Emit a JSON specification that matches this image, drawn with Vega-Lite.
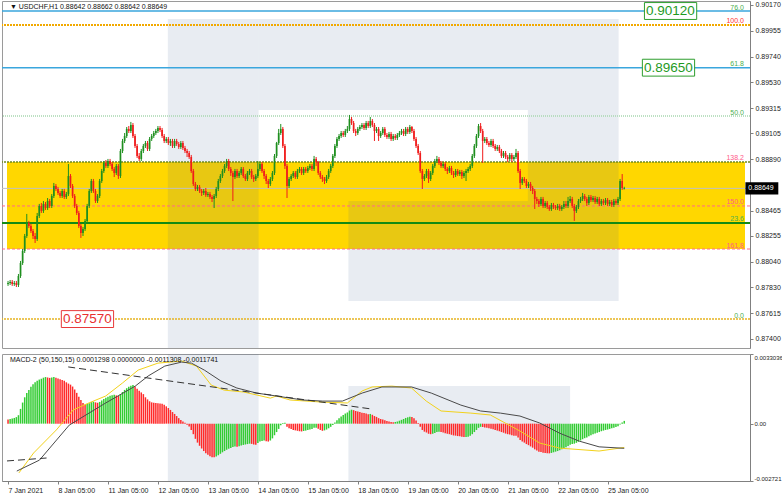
{
"$schema":"https://vega.github.io/schema/vega-lite/v6.json",
"padding":0,"spacing":4,"background":"white",
"config":{"view":{"stroke":"#9a9a9a","strokeWidth":1},"font":"Liberation Sans","axis":{"labelFont":"Liberation Sans","labelFontSize":7,"labelColor":"#222","domainColor":"#808080","tickColor":"#808080","grid":false,"labelOverlap":false,"labelBound":false}},
"datasets":{
"candles":[
{"i":0,"o":0.87856,"h":0.87881,"l":0.87840,"c":0.87864,"m":0.00020},
{"i":1,"o":0.87864,"h":0.87889,"l":0.87848,"c":0.87873,"m":0.00022},
{"i":2,"o":0.87873,"h":0.87889,"l":0.87840,"c":0.87856,"m":0.00024},
{"i":3,"o":0.87856,"h":0.87881,"l":0.87840,"c":0.87864,"m":0.00027},
{"i":4,"o":0.87864,"h":0.87881,"l":0.87831,"c":0.87848,"m":0.00031},
{"i":5,"o":0.87848,"h":0.87939,"l":0.87831,"c":0.87922,"m":0.00040},
{"i":6,"o":0.87922,"h":0.88047,"l":0.87906,"c":0.88030,"m":0.00070},
{"i":7,"o":0.88030,"h":0.88146,"l":0.88014,"c":0.88130,"m":0.00100},
{"i":8,"o":0.88130,"h":0.88271,"l":0.88113,"c":0.88254,"m":0.00125},
{"i":9,"o":0.88254,"h":0.88437,"l":0.88238,"c":0.88362,"m":0.00145},
{"i":10,"o":0.88362,"h":0.88379,"l":0.88320,"c":0.88337,"m":0.00160},
{"i":11,"o":0.88337,"h":0.88354,"l":0.88279,"c":0.88296,"m":0.00175},
{"i":12,"o":0.88296,"h":0.88312,"l":0.88229,"c":0.88254,"m":0.00187},
{"i":13,"o":0.88254,"h":0.88279,"l":0.88196,"c":0.88229,"m":0.00196},
{"i":14,"o":0.88229,"h":0.88445,"l":0.88213,"c":0.88420,"m":0.00203},
{"i":15,"o":0.88420,"h":0.88520,"l":0.88403,"c":0.88503,"m":0.00209},
{"i":16,"o":0.88503,"h":0.88528,"l":0.88445,"c":0.88462,"m":0.00213},
{"i":17,"o":0.88462,"h":0.88544,"l":0.88445,"c":0.88520,"m":0.00218},
{"i":18,"o":0.88520,"h":0.88536,"l":0.88470,"c":0.88486,"m":0.00221},
{"i":19,"o":0.88486,"h":0.88569,"l":0.88470,"c":0.88544,"m":0.00219},
{"i":20,"o":0.88544,"h":0.88561,"l":0.88486,"c":0.88503,"m":0.00217},
{"i":21,"o":0.88503,"h":0.88602,"l":0.88486,"c":0.88586,"m":0.00219},
{"i":22,"o":0.88586,"h":0.88694,"l":0.88569,"c":0.88669,"m":0.00221},
{"i":23,"o":0.88669,"h":0.88685,"l":0.88627,"c":0.88644,"m":0.00218},
{"i":24,"o":0.88644,"h":0.88661,"l":0.88594,"c":0.88611,"m":0.00214},
{"i":25,"o":0.88611,"h":0.88627,"l":0.88569,"c":0.88586,"m":0.00211},
{"i":26,"o":0.88586,"h":0.88644,"l":0.88569,"c":0.88627,"m":0.00207},
{"i":27,"o":0.88627,"h":0.88644,"l":0.88561,"c":0.88578,"m":0.00203},
{"i":28,"o":0.88578,"h":0.88619,"l":0.88561,"c":0.88602,"m":0.00196},
{"i":29,"o":0.88602,"h":0.88851,"l":0.88586,"c":0.88752,"m":0.00190},
{"i":30,"o":0.88752,"h":0.88768,"l":0.88652,"c":0.88669,"m":0.00185},
{"i":31,"o":0.88669,"h":0.88685,"l":0.88569,"c":0.88586,"m":0.00176},
{"i":32,"o":0.88586,"h":0.88602,"l":0.88486,"c":0.88503,"m":0.00162},
{"i":33,"o":0.88503,"h":0.88520,"l":0.88428,"c":0.88445,"m":0.00146},
{"i":34,"o":0.88445,"h":0.88462,"l":0.88320,"c":0.88337,"m":0.00128},
{"i":35,"o":0.88337,"h":0.88354,"l":0.88238,"c":0.88279,"m":0.00112},
{"i":36,"o":0.88279,"h":0.88329,"l":0.88254,"c":0.88312,"m":0.00098},
{"i":37,"o":0.88312,"h":0.88395,"l":0.88296,"c":0.88379,"m":0.00090},
{"i":38,"o":0.88379,"h":0.88520,"l":0.88362,"c":0.88503,"m":0.00093},
{"i":39,"o":0.88503,"h":0.88644,"l":0.88486,"c":0.88627,"m":0.00097},
{"i":40,"o":0.88627,"h":0.88727,"l":0.88611,"c":0.88710,"m":0.00102},
{"i":41,"o":0.88710,"h":0.88727,"l":0.88611,"c":0.88627,"m":0.00104},
{"i":42,"o":0.88627,"h":0.88644,"l":0.88528,"c":0.88544,"m":0.00101},
{"i":43,"o":0.88544,"h":0.88602,"l":0.88528,"c":0.88586,"m":0.00099},
{"i":44,"o":0.88586,"h":0.88727,"l":0.88569,"c":0.88710,"m":0.00103},
{"i":45,"o":0.88710,"h":0.88810,"l":0.88694,"c":0.88793,"m":0.00110},
{"i":46,"o":0.88793,"h":0.88876,"l":0.88777,"c":0.88860,"m":0.00117},
{"i":47,"o":0.88860,"h":0.88884,"l":0.88818,"c":0.88835,"m":0.00123},
{"i":48,"o":0.88835,"h":0.88893,"l":0.88818,"c":0.88876,"m":0.00128},
{"i":49,"o":0.88876,"h":0.88893,"l":0.88835,"c":0.88851,"m":0.00132},
{"i":50,"o":0.88851,"h":0.88868,"l":0.88793,"c":0.88810,"m":0.00135},
{"i":51,"o":0.88810,"h":0.88826,"l":0.88743,"c":0.88777,"m":0.00137},
{"i":52,"o":0.88777,"h":0.88851,"l":0.88760,"c":0.88835,"m":0.00134},
{"i":53,"o":0.88835,"h":0.88851,"l":0.88727,"c":0.88752,"m":0.00131},
{"i":54,"o":0.88752,"h":0.88976,"l":0.88735,"c":0.88959,"m":0.00140},
{"i":55,"o":0.88959,"h":0.89059,"l":0.88942,"c":0.89042,"m":0.00150},
{"i":56,"o":0.89042,"h":0.89108,"l":0.89025,"c":0.89083,"m":0.00160},
{"i":57,"o":0.89083,"h":0.89158,"l":0.89067,"c":0.89142,"m":0.00168},
{"i":58,"o":0.89142,"h":0.89166,"l":0.89108,"c":0.89125,"m":0.00175},
{"i":59,"o":0.89125,"h":0.89200,"l":0.89108,"c":0.89175,"m":0.00180},
{"i":60,"o":0.89175,"h":0.89191,"l":0.89067,"c":0.89083,"m":0.00183},
{"i":61,"o":0.89083,"h":0.89100,"l":0.88984,"c":0.89001,"m":0.00176},
{"i":62,"o":0.89001,"h":0.89017,"l":0.88901,"c":0.88918,"m":0.00166},
{"i":63,"o":0.88918,"h":0.88942,"l":0.88876,"c":0.88893,"m":0.00156},
{"i":64,"o":0.88893,"h":0.88976,"l":0.88876,"c":0.88959,"m":0.00148},
{"i":65,"o":0.88959,"h":0.89017,"l":0.88942,"c":0.89001,"m":0.00140},
{"i":66,"o":0.89001,"h":0.89042,"l":0.88984,"c":0.89025,"m":0.00125},
{"i":67,"o":0.89025,"h":0.89042,"l":0.88959,"c":0.88976,"m":0.00115},
{"i":68,"o":0.88976,"h":0.89075,"l":0.88959,"c":0.89059,"m":0.00106},
{"i":69,"o":0.89059,"h":0.89100,"l":0.89042,"c":0.89083,"m":0.00101},
{"i":70,"o":0.89083,"h":0.89125,"l":0.89067,"c":0.89108,"m":0.00099},
{"i":71,"o":0.89108,"h":0.89142,"l":0.89092,"c":0.89125,"m":0.00098},
{"i":72,"o":0.89125,"h":0.89166,"l":0.89108,"c":0.89150,"m":0.00097},
{"i":73,"o":0.89150,"h":0.89166,"l":0.89117,"c":0.89133,"m":0.00096},
{"i":74,"o":0.89133,"h":0.89150,"l":0.89067,"c":0.89083,"m":0.00094},
{"i":75,"o":0.89083,"h":0.89100,"l":0.89025,"c":0.89042,"m":0.00090},
{"i":76,"o":0.89042,"h":0.89075,"l":0.89025,"c":0.89059,"m":0.00082},
{"i":77,"o":0.89059,"h":0.89075,"l":0.89009,"c":0.89025,"m":0.00074},
{"i":78,"o":0.89025,"h":0.89059,"l":0.89001,"c":0.89042,"m":0.00065},
{"i":79,"o":0.89042,"h":0.89059,"l":0.88984,"c":0.89001,"m":0.00055},
{"i":80,"o":0.89001,"h":0.89059,"l":0.88984,"c":0.89042,"m":0.00046},
{"i":81,"o":0.89042,"h":0.89059,"l":0.89001,"c":0.89017,"m":0.00036},
{"i":82,"o":0.89017,"h":0.89034,"l":0.88976,"c":0.88992,"m":0.00026},
{"i":83,"o":0.88992,"h":0.89042,"l":0.88976,"c":0.89025,"m":0.00017},
{"i":84,"o":0.89025,"h":0.89042,"l":0.88967,"c":0.88984,"m":0.00010},
{"i":85,"o":0.88984,"h":0.89001,"l":0.88942,"c":0.88959,"m":0.00004},
{"i":86,"o":0.88959,"h":0.88976,"l":0.88909,"c":0.88942,"m":-0.00005},
{"i":87,"o":0.88942,"h":0.88959,"l":0.88893,"c":0.88909,"m":-0.00014},
{"i":88,"o":0.88909,"h":0.88926,"l":0.88777,"c":0.88793,"m":-0.00030},
{"i":89,"o":0.88793,"h":0.88810,"l":0.88669,"c":0.88685,"m":-0.00050},
{"i":90,"o":0.88685,"h":0.88702,"l":0.88627,"c":0.88644,"m":-0.00072},
{"i":91,"o":0.88644,"h":0.88677,"l":0.88627,"c":0.88661,"m":-0.00090},
{"i":92,"o":0.88661,"h":0.88677,"l":0.88611,"c":0.88627,"m":-0.00105},
{"i":93,"o":0.88627,"h":0.88644,"l":0.88586,"c":0.88611,"m":-0.00118},
{"i":94,"o":0.88611,"h":0.88644,"l":0.88594,"c":0.88627,"m":-0.00130},
{"i":95,"o":0.88627,"h":0.88652,"l":0.88578,"c":0.88594,"m":-0.00140},
{"i":96,"o":0.88594,"h":0.88619,"l":0.88578,"c":0.88602,"m":-0.00148},
{"i":97,"o":0.88602,"h":0.88619,"l":0.88561,"c":0.88578,"m":-0.00155},
{"i":98,"o":0.88578,"h":0.88594,"l":0.88536,"c":0.88561,"m":-0.00159},
{"i":99,"o":0.88561,"h":0.88602,"l":0.88486,"c":0.88586,"m":-0.00160},
{"i":100,"o":0.88586,"h":0.88661,"l":0.88569,"c":0.88644,"m":-0.00156},
{"i":101,"o":0.88644,"h":0.88727,"l":0.88627,"c":0.88710,"m":-0.00150},
{"i":102,"o":0.88710,"h":0.88768,"l":0.88694,"c":0.88752,"m":-0.00143},
{"i":103,"o":0.88752,"h":0.88810,"l":0.88735,"c":0.88793,"m":-0.00136},
{"i":104,"o":0.88793,"h":0.88851,"l":0.88777,"c":0.88835,"m":-0.00130},
{"i":105,"o":0.88835,"h":0.88893,"l":0.88818,"c":0.88876,"m":-0.00124},
{"i":106,"o":0.88876,"h":0.88893,"l":0.88793,"c":0.88810,"m":-0.00119},
{"i":107,"o":0.88810,"h":0.88826,"l":0.88752,"c":0.88777,"m":-0.00115},
{"i":108,"o":0.88777,"h":0.88793,"l":0.88544,"c":0.88743,"m":-0.00111},
{"i":109,"o":0.88743,"h":0.88810,"l":0.88727,"c":0.88793,"m":-0.00109},
{"i":110,"o":0.88793,"h":0.88810,"l":0.88735,"c":0.88752,"m":-0.00110},
{"i":111,"o":0.88752,"h":0.88793,"l":0.88735,"c":0.88777,"m":-0.00107},
{"i":112,"o":0.88777,"h":0.88826,"l":0.88760,"c":0.88810,"m":-0.00104},
{"i":113,"o":0.88810,"h":0.88826,"l":0.88735,"c":0.88752,"m":-0.00101},
{"i":114,"o":0.88752,"h":0.88768,"l":0.88710,"c":0.88727,"m":-0.00099},
{"i":115,"o":0.88727,"h":0.88793,"l":0.88710,"c":0.88777,"m":-0.00097},
{"i":116,"o":0.88777,"h":0.88810,"l":0.88760,"c":0.88793,"m":-0.00095},
{"i":117,"o":0.88793,"h":0.88810,"l":0.88727,"c":0.88743,"m":-0.00096},
{"i":118,"o":0.88743,"h":0.88760,"l":0.88702,"c":0.88727,"m":-0.00099},
{"i":119,"o":0.88727,"h":0.88768,"l":0.88710,"c":0.88752,"m":-0.00100},
{"i":120,"o":0.88752,"h":0.88876,"l":0.88735,"c":0.88810,"m":-0.00092},
{"i":121,"o":0.88810,"h":0.88868,"l":0.88793,"c":0.88851,"m":-0.00085},
{"i":122,"o":0.88851,"h":0.88868,"l":0.88777,"c":0.88793,"m":-0.00082},
{"i":123,"o":0.88793,"h":0.88810,"l":0.88727,"c":0.88752,"m":-0.00080},
{"i":124,"o":0.88752,"h":0.88768,"l":0.88685,"c":0.88710,"m":-0.00083},
{"i":125,"o":0.88710,"h":0.88727,"l":0.88652,"c":0.88685,"m":-0.00085},
{"i":126,"o":0.88685,"h":0.88743,"l":0.88669,"c":0.88727,"m":-0.00080},
{"i":127,"o":0.88727,"h":0.88793,"l":0.88710,"c":0.88777,"m":-0.00070},
{"i":128,"o":0.88777,"h":0.88934,"l":0.88760,"c":0.88918,"m":-0.00055},
{"i":129,"o":0.88918,"h":0.89034,"l":0.88901,"c":0.89025,"m":-0.00040},
{"i":130,"o":0.89025,"h":0.89142,"l":0.89009,"c":0.89108,"m":-0.00025},
{"i":131,"o":0.89108,"h":0.89183,"l":0.89092,"c":0.89142,"m":-0.00008},
{"i":132,"o":0.89142,"h":0.89158,"l":0.88984,"c":0.89001,"m":0.00003},
{"i":133,"o":0.89001,"h":0.89017,"l":0.88810,"c":0.88835,"m":0.00004},
{"i":134,"o":0.88835,"h":0.88851,"l":0.88569,"c":0.88669,"m":-0.00015},
{"i":135,"o":0.88669,"h":0.88743,"l":0.88652,"c":0.88727,"m":-0.00022},
{"i":136,"o":0.88727,"h":0.88768,"l":0.88710,"c":0.88752,"m":-0.00026},
{"i":137,"o":0.88752,"h":0.88793,"l":0.88735,"c":0.88777,"m":-0.00030},
{"i":138,"o":0.88777,"h":0.88793,"l":0.88727,"c":0.88743,"m":-0.00032},
{"i":139,"o":0.88743,"h":0.88810,"l":0.88727,"c":0.88793,"m":-0.00034},
{"i":140,"o":0.88793,"h":0.88826,"l":0.88777,"c":0.88810,"m":-0.00036},
{"i":141,"o":0.88810,"h":0.88826,"l":0.88760,"c":0.88777,"m":-0.00037},
{"i":142,"o":0.88777,"h":0.88826,"l":0.88760,"c":0.88810,"m":-0.00035},
{"i":143,"o":0.88810,"h":0.88826,"l":0.88777,"c":0.88793,"m":-0.00033},
{"i":144,"o":0.88793,"h":0.88835,"l":0.88777,"c":0.88818,"m":-0.00030},
{"i":145,"o":0.88818,"h":0.88851,"l":0.88802,"c":0.88835,"m":-0.00028},
{"i":146,"o":0.88835,"h":0.88851,"l":0.88793,"c":0.88810,"m":-0.00025},
{"i":147,"o":0.88810,"h":0.88918,"l":0.88793,"c":0.88893,"m":-0.00020},
{"i":148,"o":0.88893,"h":0.88909,"l":0.88835,"c":0.88868,"m":-0.00019},
{"i":149,"o":0.88868,"h":0.88876,"l":0.88760,"c":0.88777,"m":-0.00024},
{"i":150,"o":0.88777,"h":0.88793,"l":0.88727,"c":0.88743,"m":-0.00030},
{"i":151,"o":0.88743,"h":0.88760,"l":0.88702,"c":0.88727,"m":-0.00034},
{"i":152,"o":0.88727,"h":0.88743,"l":0.88685,"c":0.88710,"m":-0.00032},
{"i":153,"o":0.88710,"h":0.88760,"l":0.88694,"c":0.88743,"m":-0.00028},
{"i":154,"o":0.88743,"h":0.88810,"l":0.88727,"c":0.88793,"m":-0.00022},
{"i":155,"o":0.88793,"h":0.88851,"l":0.88777,"c":0.88835,"m":-0.00015},
{"i":156,"o":0.88835,"h":0.88934,"l":0.88818,"c":0.88918,"m":-0.00006},
{"i":157,"o":0.88918,"h":0.89017,"l":0.88901,"c":0.89001,"m":0.00005},
{"i":158,"o":0.89001,"h":0.89075,"l":0.88984,"c":0.89059,"m":0.00016},
{"i":159,"o":0.89059,"h":0.89100,"l":0.89042,"c":0.89083,"m":0.00026},
{"i":160,"o":0.89083,"h":0.89125,"l":0.89067,"c":0.89108,"m":0.00034},
{"i":161,"o":0.89108,"h":0.89125,"l":0.89075,"c":0.89092,"m":0.00041},
{"i":162,"o":0.89092,"h":0.89142,"l":0.89075,"c":0.89125,"m":0.00048},
{"i":163,"o":0.89125,"h":0.89166,"l":0.89108,"c":0.89142,"m":0.00053},
{"i":164,"o":0.89142,"h":0.89258,"l":0.89125,"c":0.89224,"m":0.00062},
{"i":165,"o":0.89224,"h":0.89241,"l":0.89175,"c":0.89191,"m":0.00066},
{"i":166,"o":0.89191,"h":0.89208,"l":0.89108,"c":0.89125,"m":0.00064},
{"i":167,"o":0.89125,"h":0.89142,"l":0.89083,"c":0.89108,"m":0.00060},
{"i":168,"o":0.89108,"h":0.89158,"l":0.89092,"c":0.89142,"m":0.00058},
{"i":169,"o":0.89142,"h":0.89175,"l":0.89125,"c":0.89158,"m":0.00055},
{"i":170,"o":0.89158,"h":0.89191,"l":0.89142,"c":0.89175,"m":0.00052},
{"i":171,"o":0.89175,"h":0.89191,"l":0.89133,"c":0.89150,"m":0.00050},
{"i":172,"o":0.89150,"h":0.89208,"l":0.89133,"c":0.89191,"m":0.00048},
{"i":173,"o":0.89191,"h":0.89208,"l":0.89150,"c":0.89166,"m":0.00045},
{"i":174,"o":0.89166,"h":0.89241,"l":0.89150,"c":0.89208,"m":0.00046},
{"i":175,"o":0.89208,"h":0.89224,"l":0.89158,"c":0.89175,"m":0.00042},
{"i":176,"o":0.89175,"h":0.89191,"l":0.89042,"c":0.89125,"m":0.00036},
{"i":177,"o":0.89125,"h":0.89158,"l":0.89108,"c":0.89142,"m":0.00032},
{"i":178,"o":0.89142,"h":0.89158,"l":0.89042,"c":0.89083,"m":0.00026},
{"i":179,"o":0.89083,"h":0.89125,"l":0.89067,"c":0.89108,"m":0.00022},
{"i":180,"o":0.89108,"h":0.89158,"l":0.89092,"c":0.89142,"m":0.00020},
{"i":181,"o":0.89142,"h":0.89158,"l":0.89075,"c":0.89092,"m":0.00016},
{"i":182,"o":0.89092,"h":0.89108,"l":0.89059,"c":0.89075,"m":0.00012},
{"i":183,"o":0.89075,"h":0.89117,"l":0.89059,"c":0.89100,"m":0.00010},
{"i":184,"o":0.89100,"h":0.89117,"l":0.89042,"c":0.89059,"m":0.00008},
{"i":185,"o":0.89059,"h":0.89100,"l":0.89042,"c":0.89083,"m":0.00007},
{"i":186,"o":0.89083,"h":0.89100,"l":0.89050,"c":0.89067,"m":0.00008},
{"i":187,"o":0.89067,"h":0.89108,"l":0.89050,"c":0.89092,"m":0.00010},
{"i":188,"o":0.89092,"h":0.89125,"l":0.89075,"c":0.89108,"m":0.00014},
{"i":189,"o":0.89108,"h":0.89142,"l":0.89092,"c":0.89125,"m":0.00018},
{"i":190,"o":0.89125,"h":0.89142,"l":0.89083,"c":0.89100,"m":0.00022},
{"i":191,"o":0.89100,"h":0.89158,"l":0.89083,"c":0.89142,"m":0.00027},
{"i":192,"o":0.89142,"h":0.89158,"l":0.89100,"c":0.89117,"m":0.00030},
{"i":193,"o":0.89117,"h":0.89175,"l":0.89100,"c":0.89158,"m":0.00033},
{"i":194,"o":0.89158,"h":0.89166,"l":0.89108,"c":0.89125,"m":0.00032},
{"i":195,"o":0.89125,"h":0.89142,"l":0.89042,"c":0.89059,"m":0.00025},
{"i":196,"o":0.89059,"h":0.89075,"l":0.88984,"c":0.89001,"m":0.00015},
{"i":197,"o":0.89001,"h":0.89017,"l":0.88926,"c":0.88942,"m":0.00003},
{"i":198,"o":0.88942,"h":0.88959,"l":0.88777,"c":0.88793,"m":-0.00015},
{"i":199,"o":0.88793,"h":0.88810,"l":0.88644,"c":0.88727,"m":-0.00030},
{"i":200,"o":0.88727,"h":0.88768,"l":0.88710,"c":0.88752,"m":-0.00038},
{"i":201,"o":0.88752,"h":0.88810,"l":0.88735,"c":0.88793,"m":-0.00042},
{"i":202,"o":0.88793,"h":0.88810,"l":0.88694,"c":0.88727,"m":-0.00048},
{"i":203,"o":0.88727,"h":0.88793,"l":0.88710,"c":0.88777,"m":-0.00050},
{"i":204,"o":0.88777,"h":0.88851,"l":0.88760,"c":0.88835,"m":-0.00048},
{"i":205,"o":0.88835,"h":0.88893,"l":0.88818,"c":0.88876,"m":-0.00044},
{"i":206,"o":0.88876,"h":0.88918,"l":0.88860,"c":0.88893,"m":-0.00040},
{"i":207,"o":0.88893,"h":0.88909,"l":0.88843,"c":0.88860,"m":-0.00039},
{"i":208,"o":0.88860,"h":0.88876,"l":0.88818,"c":0.88835,"m":-0.00040},
{"i":209,"o":0.88835,"h":0.88868,"l":0.88818,"c":0.88851,"m":-0.00042},
{"i":210,"o":0.88851,"h":0.88868,"l":0.88793,"c":0.88810,"m":-0.00045},
{"i":211,"o":0.88810,"h":0.88826,"l":0.88768,"c":0.88793,"m":-0.00048},
{"i":212,"o":0.88793,"h":0.88835,"l":0.88777,"c":0.88818,"m":-0.00050},
{"i":213,"o":0.88818,"h":0.88835,"l":0.88760,"c":0.88777,"m":-0.00053},
{"i":214,"o":0.88777,"h":0.88793,"l":0.88735,"c":0.88760,"m":-0.00056},
{"i":215,"o":0.88760,"h":0.88810,"l":0.88743,"c":0.88793,"m":-0.00057},
{"i":216,"o":0.88793,"h":0.88810,"l":0.88752,"c":0.88768,"m":-0.00059},
{"i":217,"o":0.88768,"h":0.88802,"l":0.88752,"c":0.88785,"m":-0.00060},
{"i":218,"o":0.88785,"h":0.88802,"l":0.88727,"c":0.88752,"m":-0.00062},
{"i":219,"o":0.88752,"h":0.88793,"l":0.88735,"c":0.88777,"m":-0.00063},
{"i":220,"o":0.88777,"h":0.88810,"l":0.88710,"c":0.88793,"m":-0.00063},
{"i":221,"o":0.88793,"h":0.88826,"l":0.88777,"c":0.88810,"m":-0.00062},
{"i":222,"o":0.88810,"h":0.88851,"l":0.88793,"c":0.88835,"m":-0.00058},
{"i":223,"o":0.88835,"h":0.88934,"l":0.88818,"c":0.88918,"m":-0.00050},
{"i":224,"o":0.88918,"h":0.89017,"l":0.88901,"c":0.89001,"m":-0.00040},
{"i":225,"o":0.89001,"h":0.89100,"l":0.88984,"c":0.89083,"m":-0.00030},
{"i":226,"o":0.89083,"h":0.89183,"l":0.89067,"c":0.89166,"m":-0.00020},
{"i":227,"o":0.89166,"h":0.89191,"l":0.89108,"c":0.89125,"m":-0.00015},
{"i":228,"o":0.89125,"h":0.89142,"l":0.88860,"c":0.89042,"m":-0.00016},
{"i":229,"o":0.89042,"h":0.89075,"l":0.89025,"c":0.89059,"m":-0.00018},
{"i":230,"o":0.89059,"h":0.89075,"l":0.89009,"c":0.89025,"m":-0.00020},
{"i":231,"o":0.89025,"h":0.89042,"l":0.88992,"c":0.89009,"m":-0.00022},
{"i":232,"o":0.89009,"h":0.89059,"l":0.88992,"c":0.89042,"m":-0.00024},
{"i":233,"o":0.89042,"h":0.89059,"l":0.88984,"c":0.89001,"m":-0.00027},
{"i":234,"o":0.89001,"h":0.89017,"l":0.88959,"c":0.88976,"m":-0.00030},
{"i":235,"o":0.88976,"h":0.89009,"l":0.88959,"c":0.88992,"m":-0.00033},
{"i":236,"o":0.88992,"h":0.89009,"l":0.88942,"c":0.88959,"m":-0.00036},
{"i":237,"o":0.88959,"h":0.88976,"l":0.88901,"c":0.88918,"m":-0.00040},
{"i":238,"o":0.88918,"h":0.88959,"l":0.88901,"c":0.88942,"m":-0.00043},
{"i":239,"o":0.88942,"h":0.88959,"l":0.88893,"c":0.88909,"m":-0.00047},
{"i":240,"o":0.88909,"h":0.88926,"l":0.88868,"c":0.88893,"m":-0.00050},
{"i":241,"o":0.88893,"h":0.88942,"l":0.88876,"c":0.88926,"m":-0.00052},
{"i":242,"o":0.88926,"h":0.88942,"l":0.88868,"c":0.88893,"m":-0.00055},
{"i":243,"o":0.88893,"h":0.88926,"l":0.88876,"c":0.88909,"m":-0.00057},
{"i":244,"o":0.88909,"h":0.88976,"l":0.88893,"c":0.88942,"m":-0.00058},
{"i":245,"o":0.88942,"h":0.88959,"l":0.88777,"c":0.88793,"m":-0.00066},
{"i":246,"o":0.88793,"h":0.88810,"l":0.88644,"c":0.88694,"m":-0.00078},
{"i":247,"o":0.88694,"h":0.88743,"l":0.88677,"c":0.88727,"m":-0.00085},
{"i":248,"o":0.88727,"h":0.88743,"l":0.88694,"c":0.88710,"m":-0.00090},
{"i":249,"o":0.88710,"h":0.88727,"l":0.88652,"c":0.88669,"m":-0.00097},
{"i":250,"o":0.88669,"h":0.88702,"l":0.88652,"c":0.88685,"m":-0.00102},
{"i":251,"o":0.88685,"h":0.88702,"l":0.88627,"c":0.88652,"m":-0.00108},
{"i":252,"o":0.88652,"h":0.88669,"l":0.88602,"c":0.88627,"m":-0.00114},
{"i":253,"o":0.88627,"h":0.88644,"l":0.88478,"c":0.88561,"m":-0.00122},
{"i":254,"o":0.88561,"h":0.88578,"l":0.88520,"c":0.88544,"m":-0.00128},
{"i":255,"o":0.88544,"h":0.88561,"l":0.88495,"c":0.88520,"m":-0.00133},
{"i":256,"o":0.88520,"h":0.88578,"l":0.88503,"c":0.88561,"m":-0.00135},
{"i":257,"o":0.88561,"h":0.88578,"l":0.88486,"c":0.88503,"m":-0.00138},
{"i":258,"o":0.88503,"h":0.88544,"l":0.88486,"c":0.88528,"m":-0.00139},
{"i":259,"o":0.88528,"h":0.88544,"l":0.88478,"c":0.88495,"m":-0.00140},
{"i":260,"o":0.88495,"h":0.88511,"l":0.88462,"c":0.88478,"m":-0.00141},
{"i":261,"o":0.88478,"h":0.88528,"l":0.88462,"c":0.88511,"m":-0.00139},
{"i":262,"o":0.88511,"h":0.88528,"l":0.88478,"c":0.88495,"m":-0.00136},
{"i":263,"o":0.88495,"h":0.88511,"l":0.88470,"c":0.88486,"m":-0.00133},
{"i":264,"o":0.88486,"h":0.88520,"l":0.88470,"c":0.88503,"m":-0.00130},
{"i":265,"o":0.88503,"h":0.88520,"l":0.88462,"c":0.88478,"m":-0.00126},
{"i":266,"o":0.88478,"h":0.88511,"l":0.88462,"c":0.88495,"m":-0.00122},
{"i":267,"o":0.88495,"h":0.88544,"l":0.88478,"c":0.88520,"m":-0.00117},
{"i":268,"o":0.88520,"h":0.88544,"l":0.88486,"c":0.88503,"m":-0.00112},
{"i":269,"o":0.88503,"h":0.88578,"l":0.88486,"c":0.88544,"m":-0.00106},
{"i":270,"o":0.88544,"h":0.88586,"l":0.88528,"c":0.88561,"m":-0.00100},
{"i":271,"o":0.88561,"h":0.88578,"l":0.88486,"c":0.88503,"m":-0.00097},
{"i":272,"o":0.88503,"h":0.88520,"l":0.88379,"c":0.88462,"m":-0.00095},
{"i":273,"o":0.88462,"h":0.88511,"l":0.88445,"c":0.88495,"m":-0.00091},
{"i":274,"o":0.88495,"h":0.88561,"l":0.88478,"c":0.88544,"m":-0.00086},
{"i":275,"o":0.88544,"h":0.88578,"l":0.88528,"c":0.88561,"m":-0.00080},
{"i":276,"o":0.88561,"h":0.88611,"l":0.88544,"c":0.88586,"m":-0.00074},
{"i":277,"o":0.88586,"h":0.88602,"l":0.88544,"c":0.88561,"m":-0.00069},
{"i":278,"o":0.88561,"h":0.88578,"l":0.88503,"c":0.88528,"m":-0.00066},
{"i":279,"o":0.88528,"h":0.88594,"l":0.88511,"c":0.88578,"m":-0.00060},
{"i":280,"o":0.88578,"h":0.88594,"l":0.88536,"c":0.88553,"m":-0.00055},
{"i":281,"o":0.88553,"h":0.88586,"l":0.88536,"c":0.88569,"m":-0.00050},
{"i":282,"o":0.88569,"h":0.88586,"l":0.88520,"c":0.88536,"m":-0.00047},
{"i":283,"o":0.88536,"h":0.88578,"l":0.88520,"c":0.88561,"m":-0.00043},
{"i":284,"o":0.88561,"h":0.88578,"l":0.88503,"c":0.88520,"m":-0.00040},
{"i":285,"o":0.88520,"h":0.88561,"l":0.88503,"c":0.88544,"m":-0.00036},
{"i":286,"o":0.88544,"h":0.88561,"l":0.88511,"c":0.88528,"m":-0.00033},
{"i":287,"o":0.88528,"h":0.88569,"l":0.88511,"c":0.88553,"m":-0.00030},
{"i":288,"o":0.88553,"h":0.88569,"l":0.88503,"c":0.88520,"m":-0.00028},
{"i":289,"o":0.88520,"h":0.88553,"l":0.88503,"c":0.88536,"m":-0.00025},
{"i":290,"o":0.88536,"h":0.88553,"l":0.88495,"c":0.88511,"m":-0.00022},
{"i":291,"o":0.88511,"h":0.88561,"l":0.88495,"c":0.88544,"m":-0.00019},
{"i":292,"o":0.88544,"h":0.88561,"l":0.88511,"c":0.88528,"m":-0.00016},
{"i":293,"o":0.88528,"h":0.88578,"l":0.88511,"c":0.88561,"m":-0.00012},
{"i":294,"o":0.88561,"h":0.88727,"l":0.88544,"c":0.88710,"m":-0.00004},
{"i":295,"o":0.88710,"h":0.88768,"l":0.88636,"c":0.88652,"m":0.00006},
{"i":296,"o":0.88642,"h":0.88662,"l":0.88642,"c":0.88649,"m":0.00013}
],
"levels":[
{"lbl":"76.0","p":0.90120,"k":"blue","g":"a"},
{"lbl":"100.0","p":0.90004,"k":"orange","g":"c"},
{"lbl":"61.8","p":0.89650,"k":"blue","g":"a"},
{"lbl":"50.0","p":0.89249,"k":"lgreen","g":"a"},
{"lbl":"138.2","p":0.88868,"k":"olive","g":"b"},
{"lbl":"","p":0.88649,"k":"cur","g":"a"},
{"lbl":"150.0","p":0.88503,"k":"pink","g":"b"},
{"lbl":"23.6","p":0.88362,"k":"green","g":"a"},
{"lbl":"161.8","p":0.88146,"k":"pink","g":"b"},
{"lbl":"0.0","p":0.87565,"k":"gold","g":"a"}
],
"ml":[
{"s":"macd","i":4.2,"v":-0.00225},{"s":"macd","i":15.1,"v":-0.00173},{"s":"macd","i":29.4,"v":-0.00007},{"s":"macd","i":46.9,"v":0.00098},{"s":"macd","i":61.1,"v":0.00178},{"s":"macd","i":67.3,"v":0.00226},{"s":"macd","i":75.3,"v":0.00273},{"s":"macd","i":83.4,"v":0.00292},{"s":"macd","i":88.1,"v":0.00287},{"s":"macd","i":94.3,"v":0.00254},{"s":"macd","i":102.3,"v":0.00202},{"s":"macd","i":109.9,"v":0.00169},{"s":"macd","i":119.4,"v":0.00145},{"s":"macd","i":128.9,"v":0.00131},{"s":"macd","i":141.7,"v":0.00112},{"s":"macd","i":151.2,"v":0.00107},{"s":"macd","i":160.6,"v":0.00107},{"s":"macd","i":170.1,"v":0.00145},{"s":"macd","i":179.6,"v":0.00174},{"s":"macd","i":193.8,"v":0.00174},{"s":"macd","i":203.3,"v":0.00145},{"s":"macd","i":217.5,"v":0.00088},{"s":"macd","i":227,"v":0.00060},{"s":"macd","i":236.5,"v":0.00050},{"s":"macd","i":245.9,"v":0.00036},{"s":"macd","i":255.4,"v":0.00003},{"s":"macd","i":264.9,"v":-0.00045},{"s":"macd","i":274.4,"v":-0.00083},{"s":"macd","i":283.9,"v":-0.00110},{"s":"macd","i":296,"v":-0.00117},
{"s":"sig","i":5.2,"v":-0.00234},{"s":"sig","i":12.3,"v":-0.00139},{"s":"sig","i":23.2,"v":-0.00030},{"s":"sig","i":31.3,"v":0.00065},{"s":"sig","i":38.8,"v":0.00098},{"s":"sig","i":46.9,"v":0.00131},{"s":"sig","i":55,"v":0.00193},{"s":"sig","i":62.5,"v":0.00254},{"s":"sig","i":72,"v":0.00287},{"s":"sig","i":83.4,"v":0.00297},{"s":"sig","i":90.5,"v":0.00273},{"s":"sig","i":97.6,"v":0.00183},{"s":"sig","i":103.8,"v":0.00159},{"s":"sig","i":113.2,"v":0.00150},{"s":"sig","i":126,"v":0.00121},{"s":"sig","i":128.9,"v":0.00131},{"s":"sig","i":135.5,"v":0.00112},{"s":"sig","i":151.2,"v":0.00102},{"s":"sig","i":163,"v":0.00098},{"s":"sig","i":170.1,"v":0.00155},{"s":"sig","i":174.9,"v":0.00174},{"s":"sig","i":184.3,"v":0.00178},{"s":"sig","i":193.8,"v":0.00169},{"s":"sig","i":200.9,"v":0.00107},{"s":"sig","i":208,"v":0.00060},{"s":"sig","i":222.3,"v":0.00050},{"s":"sig","i":231.7,"v":0.00041},{"s":"sig","i":238.8,"v":0.00003},{"s":"sig","i":245.9,"v":-0.00035},{"s":"sig","i":255.4,"v":-0.00092},{"s":"sig","i":264.9,"v":-0.00116},{"s":"sig","i":283.9,"v":-0.00130},{"s":"sig","i":296,"v":-0.00113}
],
"trend":[
{"t":"t1","i":28.9,"v":0.00269},{"t":"t1","i":174.9,"v":0.00069},
{"t":"t2","i":-0.5,"v":-0.00177},{"t":"t2","i":18.5,"v":-0.00163}
]
},
"vconcat":[
{
"width":748,"height":347,
"layer":[
{"data":{"values":[{}]},"mark":{"type":"rect","color":"#ffd700"},
 "encoding":{"x":{"datum":-0.5,"type":"quantitative","scale":{"domain":[-0.5,354],"nice":false,"zero":false},"axis":null},"x2":{"datum":354},
 "y":{"datum":0.88868,"type":"quantitative","scale":{"domain":[0.87325,0.90203],"nice":false,"zero":false},"axis":{"orient":"right","values":[0.90170,0.89955,0.89740,0.89530,0.89315,0.89105,0.88890,0.88465,0.88255,0.88040,0.87830,0.87615,0.87400],"tickCount":30,"format":".5f","tickSize":3,"labelPadding":2,"labelFontSize":7,"labelOverlap":false,"labelBound":false,"title":null}},"y2":{"datum":0.88146}}},
{"data":{"values":[{}]},"mark":{"type":"rect","color":"#3f5f95","opacity":0.12},
 "encoding":{"x":{"datum":76.75,"type":"quantitative","scale":{"domain":[-0.5,354],"nice":false,"zero":false},"axis":null},"x2":{"datum":120.35},"y":{"datum":0.87325,"type":"quantitative","scale":{"domain":[0.87325,0.90203],"nice":false,"zero":false}},"y2":{"datum":0.90054}}},
{"data":{"values":[{}]},"mark":{"type":"rect","color":"#3f5f95","opacity":0.12},
 "encoding":{"x":{"datum":120.35,"type":"quantitative","scale":{"domain":[-0.5,354],"nice":false,"zero":false},"axis":null},"x2":{"datum":293.3},"y":{"datum":0.89299,"type":"quantitative","scale":{"domain":[0.87325,0.90203],"nice":false,"zero":false}},"y2":{"datum":0.90054}}},
{"data":{"values":[{}]},"mark":{"type":"rect","color":"#3f5f95","opacity":0.12},
 "encoding":{"x":{"datum":249.7,"type":"quantitative","scale":{"domain":[-0.5,354],"nice":false,"zero":false},"axis":null},"x2":{"datum":293.3},"y":{"datum":0.88544,"type":"quantitative","scale":{"domain":[0.87325,0.90203],"nice":false,"zero":false}},"y2":{"datum":0.89299}}},
{"data":{"values":[{}]},"mark":{"type":"rect","color":"#3f5f95","opacity":0.12},
 "encoding":{"x":{"datum":163.5,"type":"quantitative","scale":{"domain":[-0.5,354],"nice":false,"zero":false},"axis":null},"x2":{"datum":293.3},"y":{"datum":0.87715,"type":"quantitative","scale":{"domain":[0.87325,0.90203],"nice":false,"zero":false}},"y2":{"datum":0.88544}}},
{"data":{"name":"levels"},"transform":[{"filter":"datum.k=='blue'"}],"mark":{"type":"rule","color":"#3aa6dd","strokeWidth":1.5},"encoding":{"y":{"field":"p","type":"quantitative","scale":{"domain":[0.87325,0.90203],"nice":false,"zero":false}}}},
{"data":{"name":"levels"},"transform":[{"filter":"datum.k=='orange'"}],"mark":{"type":"rule","color":"#f2a900","strokeWidth":2,"strokeDash":[2,1]},"encoding":{"y":{"field":"p","type":"quantitative","scale":{"domain":[0.87325,0.90203],"nice":false,"zero":false}}}},
{"data":{"name":"levels"},"transform":[{"filter":"datum.k=='lgreen'"}],"mark":{"type":"rule","color":"#a8d8b0","strokeWidth":1.5,"strokeDash":[1,1]},"encoding":{"y":{"field":"p","type":"quantitative","scale":{"domain":[0.87325,0.90203],"nice":false,"zero":false}}}},
{"data":{"name":"levels"},"transform":[{"filter":"datum.k=='olive'"}],"mark":{"type":"rule","color":"#6f8a1f","strokeWidth":1.5,"strokeDash":[2,1]},"encoding":{"y":{"field":"p","type":"quantitative","scale":{"domain":[0.87325,0.90203],"nice":false,"zero":false}}}},
{"data":{"name":"levels"},"transform":[{"filter":"datum.k=='cur'"}],"mark":{"type":"rule","color":"#c0c0c0","strokeWidth":1},"encoding":{"y":{"field":"p","type":"quantitative","scale":{"domain":[0.87325,0.90203],"nice":false,"zero":false}}}},
{"data":{"name":"levels"},"transform":[{"filter":"datum.k=='pink'"}],"mark":{"type":"rule","color":"#ff6a8a","strokeWidth":1,"strokeDash":[3,2]},"encoding":{"y":{"field":"p","type":"quantitative","scale":{"domain":[0.87325,0.90203],"nice":false,"zero":false}}}},
{"data":{"name":"levels"},"transform":[{"filter":"datum.k=='green'"}],"mark":{"type":"rule","color":"#138a13","strokeWidth":2},"encoding":{"y":{"field":"p","type":"quantitative","scale":{"domain":[0.87325,0.90203],"nice":false,"zero":false}}}},
{"data":{"name":"levels"},"transform":[{"filter":"datum.k=='gold'"}],"mark":{"type":"rule","color":"#e6b422","strokeWidth":1.5,"strokeDash":[2,1]},"encoding":{"y":{"field":"p","type":"quantitative","scale":{"domain":[0.87325,0.90203],"nice":false,"zero":false}}}},
{"data":{"name":"candles"},"mark":{"type":"rule","strokeWidth":1},
 "encoding":{"x":{"field":"i","type":"quantitative","scale":{"domain":[-0.5,354],"nice":false,"zero":false},"axis":null},
 "y":{"field":"l","type":"quantitative","scale":{"domain":[0.87325,0.90203],"nice":false,"zero":false}},"y2":{"field":"h"},
 "color":{"condition":{"test":"datum.c >= datum.o","value":"#1f8f1f"},"value":"#f01c1c"}}},
{"data":{"name":"candles"},"mark":{"type":"bar","size":1.7},
 "encoding":{"x":{"field":"i","type":"quantitative","scale":{"domain":[-0.5,354],"nice":false,"zero":false},"axis":null},
 "y":{"field":"o","type":"quantitative","scale":{"domain":[0.87325,0.90203],"nice":false,"zero":false}},"y2":{"field":"c"},
 "color":{"condition":{"test":"datum.c >= datum.o","value":"#1f8f1f"},"value":"#f01c1c"}}},
{"data":{"name":"levels"},"transform":[{"filter":"datum.lbl!=''"}],"mark":{"type":"text","align":"right","baseline":"bottom","dy":-0.5,"fontSize":7,"font":"Liberation Sans"},
 "encoding":{"x":{"datum":353.5,"type":"quantitative","scale":{"domain":[-0.5,354],"nice":false,"zero":false},"axis":null},
 "y":{"field":"p","type":"quantitative","scale":{"domain":[0.87325,0.90203],"nice":false,"zero":false}},
 "text":{"field":"lbl"},
 "color":{"field":"g","type":"nominal","scale":{"domain":["a","b","c"],"range":["#4caf50","#ff5c8a","#ff3333"]},"legend":null}}},
{"data":{"values":[{}]},"mark":{"type":"rect","fill":"white","stroke":"#2e9e2e","strokeWidth":1},
 "encoding":{"x":{"datum":305.7,"type":"quantitative","scale":{"domain":[-0.5,354],"nice":false,"zero":false},"axis":null},"x2":{"datum":330.8},"y":{"datum":0.90050,"type":"quantitative","scale":{"domain":[0.87325,0.90203],"nice":false,"zero":false}},"y2":{"datum":0.90190}}},
{"data":{"values":[{}]},"mark":{"type":"text","align":"center","baseline":"middle","fontSize":13.5,"font":"Liberation Sans","color":"#1f9a1f"},
 "encoding":{"x":{"datum":318.2,"type":"quantitative","scale":{"domain":[-0.5,354],"nice":false,"zero":false},"axis":null},"y":{"datum":0.90120,"type":"quantitative","scale":{"domain":[0.87325,0.90203],"nice":false,"zero":false}},"text":{"value":"0.90120"}}},
{"data":{"values":[{}]},"mark":{"type":"rect","fill":"white","stroke":"#2e9e2e","strokeWidth":1},
 "encoding":{"x":{"datum":304.7,"type":"quantitative","scale":{"domain":[-0.5,354],"nice":false,"zero":false},"axis":null},"x2":{"datum":329.8},"y":{"datum":0.89580,"type":"quantitative","scale":{"domain":[0.87325,0.90203],"nice":false,"zero":false}},"y2":{"datum":0.89720}}},
{"data":{"values":[{}]},"mark":{"type":"text","align":"center","baseline":"middle","fontSize":13.5,"font":"Liberation Sans","color":"#1f9a1f"},
 "encoding":{"x":{"datum":317.2,"type":"quantitative","scale":{"domain":[-0.5,354],"nice":false,"zero":false},"axis":null},"y":{"datum":0.89650,"type":"quantitative","scale":{"domain":[0.87325,0.90203],"nice":false,"zero":false}},"text":{"value":"0.89650"}}},
{"data":{"values":[{}]},"mark":{"type":"rect","fill":"white","stroke":"#e83a3a","strokeWidth":1},
 "encoding":{"x":{"datum":25.6,"type":"quantitative","scale":{"domain":[-0.5,354],"nice":false,"zero":false},"axis":null},"x2":{"datum":50.7},"y":{"datum":0.87495,"type":"quantitative","scale":{"domain":[0.87325,0.90203],"nice":false,"zero":false}},"y2":{"datum":0.87635}}},
{"data":{"values":[{}]},"mark":{"type":"text","align":"center","baseline":"middle","fontSize":13.5,"font":"Liberation Sans","color":"#e83030"},
 "encoding":{"x":{"datum":38.15,"type":"quantitative","scale":{"domain":[-0.5,354],"nice":false,"zero":false},"axis":null},"y":{"datum":0.87565,"type":"quantitative","scale":{"domain":[0.87325,0.90203],"nice":false,"zero":false}},"text":{"value":"0.87570"}}},
{"data":{"values":[{}]},"mark":{"type":"text","align":"left","baseline":"middle","fontSize":7,"font":"Liberation Sans","color":"#111"},
 "encoding":{"x":{"datum":0.9,"type":"quantitative","scale":{"domain":[-0.5,354],"nice":false,"zero":false},"axis":null},"y":{"datum":0.90153,"type":"quantitative","scale":{"domain":[0.87325,0.90203],"nice":false,"zero":false}},"text":{"value":"▼ USDCHF,H1  0.88642 0.88662 0.88642 0.88649"}}},
{"data":{"values":[{}]},"mark":{"type":"rect","color":"#000000"},
 "encoding":{"x":{"datum":354.2,"type":"quantitative","scale":{"domain":[-0.5,354],"nice":false,"zero":false},"axis":null},"x2":{"datum":370},"y":{"datum":0.88599,"type":"quantitative","scale":{"domain":[0.87325,0.90203],"nice":false,"zero":false}},"y2":{"datum":0.88699}}},
{"data":{"values":[{}]},"mark":{"type":"text","align":"left","baseline":"middle","fontSize":7,"font":"Liberation Sans","color":"white"},
 "encoding":{"x":{"datum":355.6,"type":"quantitative","scale":{"domain":[-0.5,354],"nice":false,"zero":false},"axis":null},"y":{"datum":0.88649,"type":"quantitative","scale":{"domain":[0.87325,0.90203],"nice":false,"zero":false}},"text":{"value":"0.88649"}}}
]
},
{
"width":748,"height":127,
"layer":[
{"data":{"values":[{}]},"mark":{"type":"rect","color":"#3f5f95","opacity":0.12},
 "encoding":{"x":{"datum":76.75,"type":"quantitative","scale":{"domain":[-0.5,354],"nice":false,"zero":false}},"x2":{"datum":120.35},
 "y":{"datum":-0.002721,"type":"quantitative","scale":{"domain":[-0.002721,0.0033036],"nice":false,"zero":false}},"y2":{"datum":0.0033036}}},
{"data":{"values":[{}]},"mark":{"type":"rect","color":"#3f5f95","opacity":0.12},
 "encoding":{"x":{"datum":163.5,"type":"quantitative","scale":{"domain":[-0.5,354],"nice":false,"zero":false}},"x2":{"datum":270},"y":{"datum":-0.002721,"type":"quantitative","scale":{"domain":[-0.002721,0.0033036],"nice":false,"zero":false}},"y2":{"datum":0.00178}}},
{"data":{"name":"candles"},"transform":[{"window":[{"op":"lag","field":"m","as":"pm"}],"sort":[{"field":"i","order":"ascending"}]}],
 "mark":{"type":"bar","size":1.5},
 "encoding":{"x":{"field":"i","type":"quantitative","scale":{"domain":[-0.5,354],"nice":false,"zero":false},"axis":{"values":[0,24,48,72,96,120,144,168,192,216,240,264,288],"tickCount":30,"labelExpr":"['7 Jan 2021','8 Jan 05:00','11 Jan 05:00','12 Jan 05:00','13 Jan 05:00','14 Jan 05:00','15 Jan 05:00','18 Jan 05:00','19 Jan 05:00','20 Jan 05:00','21 Jan 05:00','22 Jan 05:00','25 Jan 05:00'][round(datum.value/24)]","labelAlign":"left","labelPadding":2,"tickSize":3,"labelFontSize":7,"labelBound":false,"labelOverlap":false,"labelFlush":false,"title":null}},
 "y":{"field":"m","type":"quantitative","scale":{"domain":[-0.002721,0.0033036],"nice":false,"zero":false},"axis":{"orient":"right","values":[0.0033036,0,-0.002721],"tickCount":10,"labelExpr":"datum.value > 0.001 ? '0.0033036' : (datum.value < -0.001 ? '-0.002721' : '0.00')","labelFlush":true,"labelOverlap":false,"labelBound":false,"tickSize":3,"labelPadding":1,"labelFontSize":6,"title":null}},"y2":{"datum":0},
 "color":{"condition":{"test":"datum.pm != null && datum.m >= datum.pm","value":"#33cc33"},"value":"#ff2a2a"}}},
{"data":{"name":"ml"},"transform":[{"filter":"datum.s=='sig'"}],"mark":{"type":"line","color":"#f2d21b","strokeWidth":1},
 "encoding":{"x":{"field":"i","type":"quantitative","scale":{"domain":[-0.5,354],"nice":false,"zero":false}},"y":{"field":"v","type":"quantitative","scale":{"domain":[-0.002721,0.0033036],"nice":false,"zero":false}}}},
{"data":{"name":"ml"},"transform":[{"filter":"datum.s=='macd'"}],"mark":{"type":"line","color":"#4a4a4a","strokeWidth":1},
 "encoding":{"x":{"field":"i","type":"quantitative","scale":{"domain":[-0.5,354],"nice":false,"zero":false}},"y":{"field":"v","type":"quantitative","scale":{"domain":[-0.002721,0.0033036],"nice":false,"zero":false}}}},
{"data":{"name":"trend"},"mark":{"type":"line","color":"#333333","strokeWidth":1,"strokeDash":[7,4]},
 "encoding":{"x":{"field":"i","type":"quantitative","scale":{"domain":[-0.5,354],"nice":false,"zero":false}},"y":{"field":"v","type":"quantitative","scale":{"domain":[-0.002721,0.0033036],"nice":false,"zero":false}},"detail":{"field":"t"}}},
{"data":{"values":[{}]},"mark":{"type":"text","align":"left","baseline":"middle","fontSize":7,"font":"Liberation Sans","color":"#111"},
 "encoding":{"x":{"datum":0.9,"type":"quantitative","scale":{"domain":[-0.5,354],"nice":false,"zero":false}},"y":{"datum":0.00302,"type":"quantitative","scale":{"domain":[-0.002721,0.0033036],"nice":false,"zero":false}},"text":{"value":"MACD-2 (50,150,15) 0.0001298 0.0000000 -0.0011308 -0.0011741"}}}
]
}
]
}
